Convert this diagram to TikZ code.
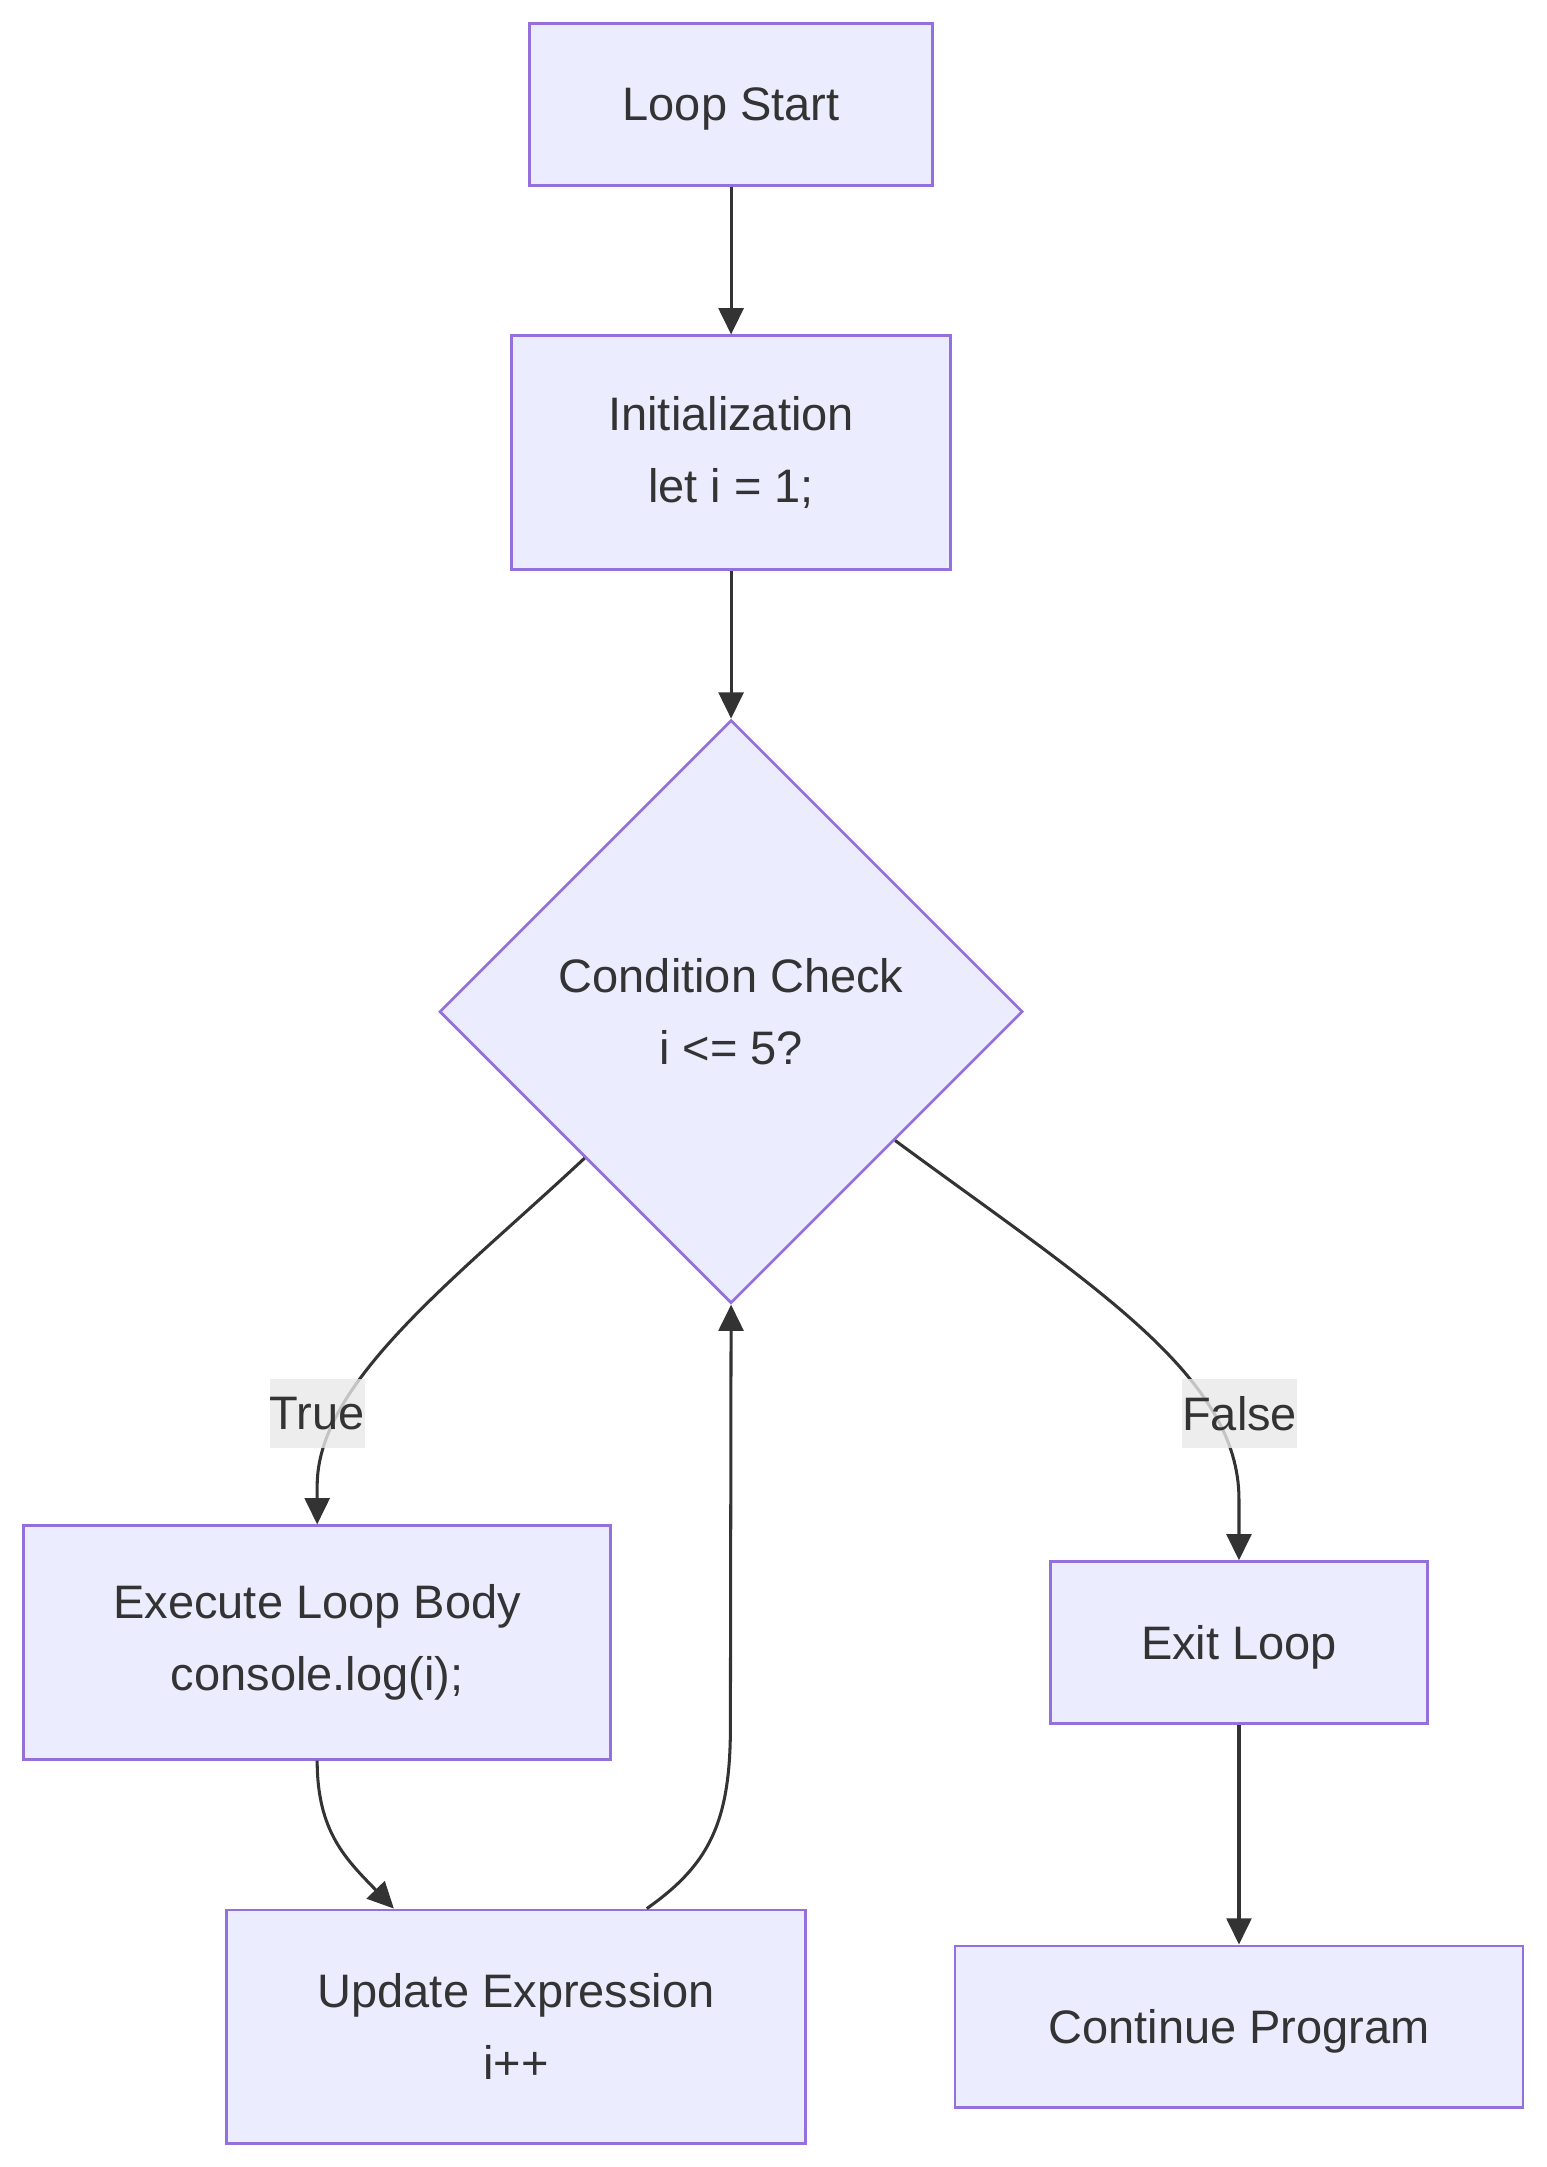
\documentclass[tikz,border=0pt]{standalone}
\usepackage{fontspec}
\setmainfont{Liberation Sans}
\usetikzlibrary{shapes.geometric,arrows.meta,calc}
\definecolor{nodefill}{HTML}{ECECFF}
\definecolor{nodeline}{HTML}{9370DB}
\definecolor{txt}{HTML}{333333}
\definecolor{lblbg}{HTML}{E8E8E8}
\begin{document}
\begin{tikzpicture}[x=1pt,y=-1pt,
  box/.style={draw=nodeline, fill=nodefill, line width=2pt, inner sep=0pt, text=txt,
    font=\fontsize{34}{52}\selectfont, align=center},
  oneline/.style={text height=31pt, text depth=7pt},
  decision/.style={box, diamond, aspect=1, minimum width=422pt, minimum height=422pt},
  edge/.style={draw=txt, line width=2.2pt, -{Triangle[length=19pt,width=18pt]}},
  lbl/.style={fill=lblbg, fill opacity=0.8, text opacity=1, text=txt,
    font=\fontsize{34}{52}\selectfont, inner sep=0pt, minimum height=50pt}]
\useasboundingbox (0,0) rectangle (1119,1568);

\node[box, oneline, minimum width=292pt, minimum height=117pt] (start) at (529,75.5) {Loop Start};
\node[box, minimum width=318pt, minimum height=169pt] (init) at (529,327.5) {Initialization\\let i = 1;};
\node[decision] (cond) at (529,732) {Condition Check\\i <= 5?};
\node[box, minimum width=425pt, minimum height=169pt] (exec) at (229.5,1188.5) {Execute Loop Body\\console.log(i);};
\node[box, minimum width=419pt, minimum height=169pt] (update) at (373.5,1466.5) {Update Expression\\i++};
\node[box, oneline, minimum width=273pt, minimum height=117pt] (exit) at (896.5,1188.5) {Exit Loop};
\node[box, oneline, minimum width=411pt, minimum height=117pt] (cont) at (896.5,1466.5) {Continue Program};

\coordinate (tA) at ($(cond.west)!0.5!(cond.south)$);
\coordinate (fA) at ($(cond.east)!0.44!(cond.south)$);
\coordinate (uA) at ($(update.north west)+(122,0)$);
\coordinate (uB) at ($(update.north west)+(305,0)$);

\draw[edge] (start) -- (init);
\draw[edge] (init) -- (cond);
\draw[edge] (tA) .. controls (330,925) and (229.5,1000) .. (229.5,1075) -- (exec.north);
\draw[edge] (fA) .. controls (790,930) and (896.5,995) .. (896.5,1085) -- (exit.north);
\draw[edge] (exec.south) .. controls (229.5,1325) and (250,1345) .. (uA);
\draw[edge] (uB) .. controls (512,1350) and (528.5,1320) .. (528.5,1250) -- (cond.south);
\draw[edge] (exit) -- (cont);

\node[lbl] (ltrue) at (229.5,1023) {True};
\node[lbl] (lfalse) at (897,1023) {False};
\end{tikzpicture}
\end{document}
